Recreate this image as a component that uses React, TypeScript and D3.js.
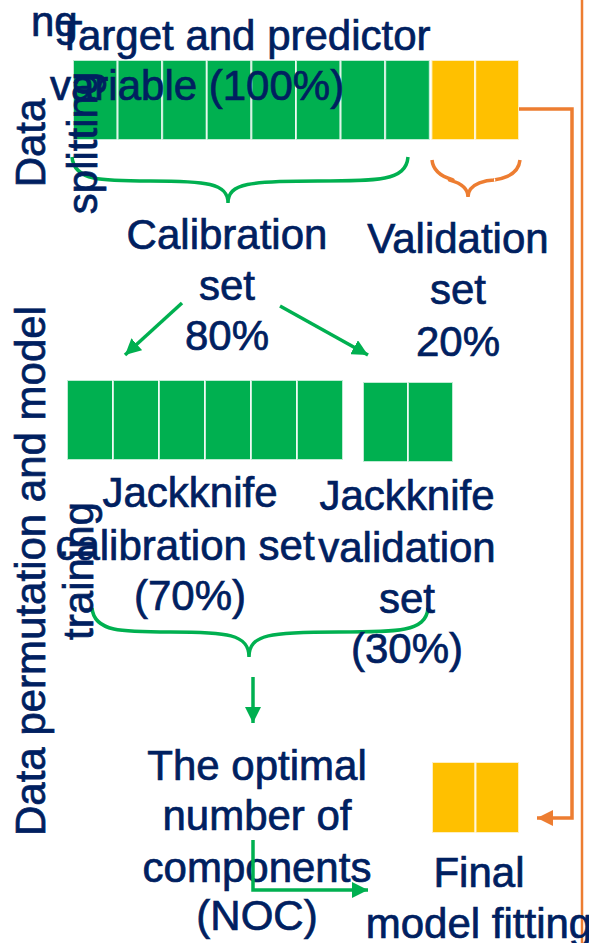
import React from "react";
import * as d3 from "d3";

// ---- data ----
const topCellCounts = [8, 2]; // calibration 80% (8 cells), validation 20% (2 cells)
const jackknifeCellCounts = [6, 2]; // jackknife calibration / validation
const finalCellCount = 2;

const titleLines = ["Target and predictor", "variable (100%)"];
const calibrationLines = ["Calibration", "set", "80%"];
const validationLines = ["Validation", "set", "20%"];
const jkCalLines = ["Jackknife", "calibration set", "(70%)"];
const jkValLines = ["Jackknife", "validation", "set", "(30%)"];
const nocLines = ["The optimal", "number of", "components", "(NOC)"];
const finalLines = ["Final", "model fitting"];
const sideLabelTop = ["Data", "splitting"];
const sideLabelBottom = ["Data permutation and model", "training"];
const strayText = "ng";

// ---- styles ----
const NAVY = "#002060";
const GREEN = "#00B050";
const YELLOW = "#FFC000";
const ORANGE = "#ED7D31";
const FONT = "'Liberation Sans', Arial, Helvetica, sans-serif";
const FS = 42;

function Cells({ count, x0, x1, y0, y1, color }) {
  const band = d3.scaleBand<number>().domain(d3.range(count)).range([x0, x1]);
  return (
    <g>
      {d3.range(count).map((i) => (
        <rect
          key={i}
          x={band(i)!}
          y={y0}
          width={band.bandwidth()}
          height={y1 - y0}
          fill={color}
          stroke="#ffffff"
          strokeOpacity={0.75}
          strokeWidth={2}
        />
      ))}
    </g>
  );
}

function Lines({ lines, cx, baselines, anchor = "middle" }) {
  return (
    <g>
      {lines.map((t, i) => (
        <text
          key={i}
          x={Array.isArray(cx) ? cx[i] : cx}
          y={baselines[i]}
          textAnchor={anchor}
          fill={NAVY}
          stroke={NAVY}
          strokeWidth={0.7}
          fontFamily={FONT}
          fontSize={FS}
        >
          {t}
        </text>
      ))}
    </g>
  );
}

function RotLines({ lines, xs, cy }) {
  return (
    <g>
      {lines.map((t, i) => (
        <text
          key={i}
          transform={`translate(${xs[i]},${cy}) rotate(-90)`}
          textAnchor="middle"
          fill={NAVY}
          stroke={NAVY}
          strokeWidth={0.7}
          fontFamily={FONT}
          fontSize={FS}
        >
          {t}
        </text>
      ))}
    </g>
  );
}

function bracePath(x0, x1, xt, y0, ym, yt) {
  const p = d3.path();
  p.moveTo(x0, y0);
  p.bezierCurveTo(x0 + 2, ym, x0 + 30, ym, (x0 + xt) / 2, ym);
  p.bezierCurveTo(xt - 22, ym, xt, ym + 2, xt, yt);
  p.moveTo(x1, y0);
  p.bezierCurveTo(x1 - 2, ym, x1 - 30, ym, (x1 + xt) / 2, ym);
  p.bezierCurveTo(xt + 22, ym, xt, ym + 2, xt, yt);
  return p.toString();
}

function linePath(pts) {
  return d3.line()(pts as [number, number][]) || "";
}

export default function App() {
  return (
    <svg
      width={589}
      height={943}
      style={{ position: "absolute", left: 0, top: 0, background: "#fff" }}
    >
      <defs>
        <marker id="gArrow" markerUnits="userSpaceOnUse" markerWidth={18} markerHeight={16}
          refX={16} refY={8} orient="auto">
          <path d="M0,0 L16,8 L0,16 Z" fill={GREEN} />
        </marker>
        <marker id="oArrow" markerUnits="userSpaceOnUse" markerWidth={18} markerHeight={16}
          refX={16} refY={8} orient="auto">
          <path d="M0,0 L16,8 L0,16 Z" fill={ORANGE} />
        </marker>
      </defs>
      <rect x={0} y={0} width={589} height={943} fill="#fff" />

      {/* orange right vertical line */}
      <path d={linePath([[582, 0], [582, 943]])} stroke={ORANGE} strokeWidth={2.5} fill="none" />

      {/* top row */}
      <Cells count={topCellCounts[0]} x0={73} x1={429.8} y0={60} y1={140} color={GREEN} />
      <Cells count={topCellCounts[1]} x0={431.4} x1={519} y0={60} y1={140} color={YELLOW} />

      {/* orange connector to final model */}
      <path
        d={linePath([[519, 109], [572, 109], [572, 818], [537, 818]])}
        stroke={ORANGE}
        strokeWidth={3.5}
        fill="none"
        markerEnd="url(#oArrow)"
      />

      {/* braces */}
      <path d={bracePath(72, 408, 228, 157, 181, 203)} stroke={GREEN} strokeWidth={3.5} fill="none" />
      <path d={bracePath(432, 520, 468, 160, 180, 197)} stroke={ORANGE} strokeWidth={3.5} fill="none" />

      {/* middle row */}
      <Cells count={jackknifeCellCounts[0]} x0={67} x1={343} y0={380} y1={460} color={GREEN} />
      <Cells count={jackknifeCellCounts[1]} x0={363} x1={453} y0={382} y1={462} color={GREEN} />

      {/* arrows from calibration set */}
      <path d={linePath([[182, 303], [125, 355]])} stroke={GREEN} strokeWidth={3.5} fill="none" markerEnd="url(#gArrow)" />
      <path d={linePath([[280, 306], [368, 355]])} stroke={GREEN} strokeWidth={3.5} fill="none" markerEnd="url(#gArrow)" />

      {/* bottom brace */}
      <path d={bracePath(92, 428, 249, 608, 632, 657)} stroke={GREEN} strokeWidth={3.5} fill="none" />
      <path d={linePath([[253, 677], [253, 723]])} stroke={GREEN} strokeWidth={3.5} fill="none" markerEnd="url(#gArrow)" />

      {/* final cells */}
      <Cells count={finalCellCount} x0={432} x1={519} y0={762} y1={833} color={YELLOW} />

      {/* texts */}
      <Lines lines={[strayText]} cx={31} baselines={[36]} anchor="start" />
      <Lines lines={titleLines} cx={[57, 50]} baselines={[50, 100]} anchor="start" />
      <RotLines lines={sideLabelTop} xs={[45, 97]} cy={143} />
      <Lines lines={calibrationLines} cx={227} baselines={[249, 300, 350]} />
      <Lines lines={validationLines} cx={458} baselines={[253, 304, 356]} />
      <RotLines lines={sideLabelBottom} xs={[45, 93]} cy={571} />
      <Lines lines={jkCalLines} cx={[190, 185, 190]} baselines={[507, 560, 610]} />
      <Lines lines={jkValLines} cx={407} baselines={[510, 562, 613, 663]} />
      <Lines lines={nocLines} cx={257} baselines={[780, 830, 882, 930]} />
      <Lines lines={finalLines} cx={479} baselines={[887, 938]} />

      {/* L arrow over NOC text */}
      <path
        d={linePath([[253, 840], [253, 890], [368, 890]])}
        stroke={GREEN}
        strokeWidth={3.5}
        fill="none"
        markerEnd="url(#gArrow)"
      />
    </svg>
  );
}
